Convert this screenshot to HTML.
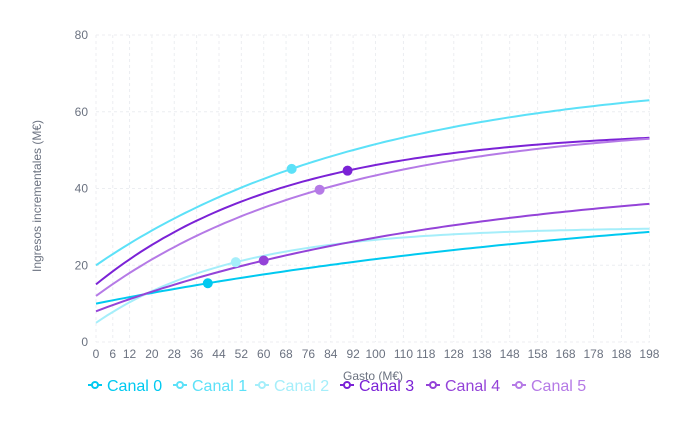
<!DOCTYPE html><html><head><meta charset="utf-8"><style>body{margin:0;background:#fff}</style></head><body>
<svg id="s" width="696" height="432" xmlns="http://www.w3.org/2000/svg" font-family="Liberation Sans, sans-serif"></svg>
<script>
const s=document.getElementById('s');let h='';
const X=v=>96+v*2.795, Y=v=>342-v*3.8375;
const labs=[0,6,12,20,28,36,44,52,60,68,76,84,92,100,110,118,128,138,148,158,168,178,188,198];
for(const l of labs){h+=`<line x1="${X(l)}" y1="35" x2="${X(l)}" y2="342" stroke="#eceef1" stroke-dasharray="3,3"/>`;
h+=`<text x="${X(l)}" y="358" font-size="12" fill="#6b7280" text-anchor="middle">${l}</text>`;}
for(const v of [0,20,40,60,80]){h+=`<line x1="96" y1="${Y(v)}" x2="650" y2="${Y(v)}" stroke="#eceef1" stroke-dasharray="3,3"/>`;
h+=`<text x="88" y="${Y(v)+4}" font-size="12" fill="#6b7280" text-anchor="end">${v}</text>`;}
h+=`<text x="41" y="272" font-size="12" fill="#6b7280" transform="rotate(-90 41 272)">Ingresos incrementales (M€)</text>`;
const S=[["#00c9f0",10,30.6,210,40],["#5ce1f8",20,49.9,100,70],["#a5eefa",5,25,50,50],["#7b22d6",15,40.4,68,90],["#9443d8",8,35.8,130,60],["#b57ae6",12,45.4,85,80]];
const f=(c,x)=>c[1]+c[2]*(1-Math.exp(-x/c[3]));
S.forEach(c=>{let d='';for(let x=0;x<=198;x+=2)d+=(x?'L':'M')+X(x).toFixed(1)+','+Y(f(c,x)).toFixed(1);
h+=`<path d="${d}" fill="none" stroke="${c[0]}" stroke-width="2"/>`;});
S.forEach(c=>{h+=`<circle cx="${X(c[4])}" cy="${Y(f(c,c[4]))}" r="5" fill="${c[0]}"/>`;});
h+=`<text x="373" y="380" font-size="12" fill="#6b7280" text-anchor="middle">Gasto (M€)</text>`;
const lx=[88,173,255,340,426,512];
S.forEach((c,i)=>{const x=lx[i];h+=`<line x1="${x}" y1="385" x2="${x+14}" y2="385" stroke="${c[0]}" stroke-width="2"/><circle cx="${x+7}" cy="385" r="3" fill="#fff" stroke="${c[0]}" stroke-width="2"/><text x="${x+19}" y="391" font-size="16" fill="${c[0]}">Canal ${i}</text>`;});
s.innerHTML=h;
</script></body></html>
